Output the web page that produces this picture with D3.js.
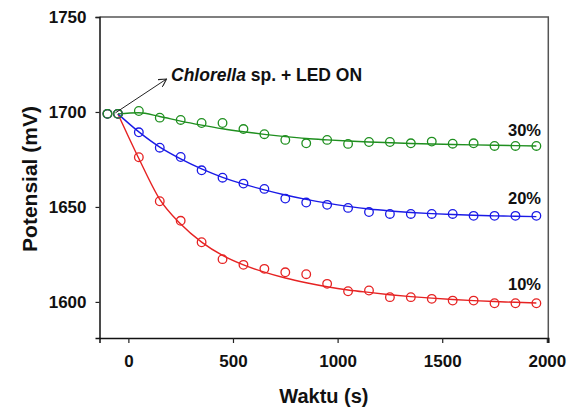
<!DOCTYPE html>
<html>
<head>
<meta charset="utf-8">
<script src="https://cdn.jsdelivr.net/npm/d3@7"></script>
<style>
  body { margin: 0; background: #fff; }
  text { font-family: "Liberation Sans", Arial, sans-serif; font-weight: bold; }
</style>
</head>
<body>
<div id="container"></div>
<script>
// sizes
const width = 576,
  height = 407,
  margin = { top: 17, bottom: 69, left: 99.5, right: 27.7 },
  radius = 4.3;

// measured points (time in s, potential in mV)
const times = [-100, -50, 50, 150, 250, 350, 450, 550, 650, 750, 850, 950,
  1050, 1150, 1250, 1350, 1450, 1550, 1650, 1750, 1850, 1950];
const pct30 = [1699, 1699, 1700.5, 1697, 1695.8, 1694.2, 1694.2, 1691, 1688.3, 1685.3, 1683.5, 1685.3,
  1683.2, 1684.2, 1684.2, 1683.5, 1684.4, 1683.3, 1683.5, 1682.1, 1682.1, 1682.1];
const pct20 = [1699, 1699, 1689.3, 1681.2, 1676.3, 1669.3, 1665.4, 1662.3, 1659.5, 1654.4, 1652.3, 1651.1,
  1649.5, 1647.3, 1646.3, 1646.3, 1646.3, 1646.3, 1645.3, 1645.3, 1645.3, 1645.3];
const pct10 = [1699, 1699, 1676.2, 1653, 1642.7, 1631.4, 1622.5, 1619.5, 1617.4, 1615.6, 1614.6, 1609.5,
  1605.6, 1606, 1602.5, 1602.5, 1601.6, 1600.7, 1600.7, 1599.3, 1599.3, 1599.3];

// fitted curves
const fitTimes = [-50, 50, 150, 250, 350, 450, 550, 650, 750, 850, 950,
  1050, 1150, 1250, 1350, 1450, 1550, 1650, 1750, 1850, 1950];
const fit30 = [1699, 1699.6, 1697.6, 1695.2, 1693.1, 1691.2, 1689.6, 1688.2, 1687, 1686, 1685.3,
  1684.7, 1684.2, 1683.8, 1683.4, 1683.1, 1682.9, 1682.7, 1682.5, 1682.3, 1682.1];
const fit20 = [1699, 1689.5, 1681.5, 1675.3, 1670, 1665.6, 1662, 1659, 1656.3, 1654, 1652,
  1650.3, 1648.9, 1647.9, 1647.1, 1646.5, 1646, 1645.6, 1645.3, 1645.1, 1644.9];
const fit10 = [1699, 1675.5, 1654, 1641, 1631.5, 1624.5, 1619.5, 1615.7, 1612.6, 1610.1, 1608,
  1606.3, 1605, 1603.8, 1602.8, 1602, 1601.3, 1600.7, 1600.2, 1599.8, 1599.4];

const seriesNames = ["30%", "20%", "10%"];
const xTicks = [0, 500, 1000, 1500, 2000];
const yTicks = [1600, 1650, 1700, 1750];

const series = [
  { name: seriesNames[0], pts: pct30, fit: fit30, color: "#1f8f1f", labelY: 135.5 },
  { name: seriesNames[1], pts: pct20, fit: fit20, color: "#1a1ae6", labelY: 204 },
  { name: seriesNames[2], pts: pct10, fit: fit10, color: "#e62222", labelY: 290 }
];

const xScale = d3.scaleLinear()
  .domain([-138, 2007])
  .range([margin.left, width - margin.right]);

const yScale = d3.scaleLinear()
  .domain([1581, 1750])
  .range([height - margin.bottom, margin.top]);

const svg = d3.select("#container")
  .append("svg")
  .attr("width", width)
  .attr("height", height);

// frame: top and right are a lighter grey
svg.append("path")
  .attr("d", `M${margin.left},${margin.top}H${width - margin.right}V${height - margin.bottom}`)
  .attr("fill", "none")
  .attr("stroke", "#555")
  .attr("stroke-width", 1.5);

// axes
const xAxis = svg.append("g")
  .attr("transform", `translate(0,${height - margin.bottom})`)
  .call(d3.axisBottom(xScale).tickValues(xTicks).tickFormat(d3.format("d"))
    .tickSizeOuter(0).tickSize(5).tickPadding(12));

const yAxis = svg.append("g")
  .attr("transform", `translate(${margin.left},0)`)
  .call(d3.axisLeft(yScale).tickValues(yTicks).tickFormat(d3.format("d"))
    .tickSizeOuter(0).tickSize(4).tickPadding(9));

[xAxis, yAxis].forEach(ax => {
  ax.select(".domain").attr("stroke", "#111").attr("stroke-width", 1.5);
  ax.selectAll(".tick line").attr("stroke", "#222").attr("stroke-width", 1.2);
  ax.selectAll(".tick text")
    .style("font-size", "17px")
    .style("font-family", "'Liberation Sans', Arial, sans-serif")
    .style("font-weight", "bold")
    .attr("fill", "#111");
});

// axis titles
svg.append("text")
  .attr("x", (margin.left + width - margin.right) / 2)
  .attr("y", 402.5)
  .attr("text-anchor", "middle")
  .style("font-size", "20px")
  .attr("fill", "#111")
  .text("Waktu (s)");

svg.append("text")
  .attr("transform", "translate(36.5,179) rotate(-90)")
  .attr("text-anchor", "middle")
  .style("font-size", "21px")
  .attr("fill", "#111")
  .text("Potensial (mV)");

// fitted lines
const line = d3.line()
  .x((d, i) => xScale(fitTimes[i]))
  .y(d => yScale(d))
  .curve(d3.curveMonotoneX);

// draw 10% first so green ends on top
series.slice().reverse().forEach(s => {
  svg.append("path")
    .attr("d", line(s.fit))
    .attr("fill", "none")
    .attr("stroke", s.color)
    .attr("stroke-width", 1.4);
});

series.slice().reverse().forEach(s => {
  svg.append("g")
    .selectAll("circle")
    .data(s.pts)
    .join("circle")
    .attr("cx", (d, i) => xScale(times[i]))
    .attr("cy", d => yScale(d))
    .attr("r", radius)
    .attr("fill", "none")
    .attr("stroke", s.color)
    .attr("stroke-width", 1.3);
});

// series labels
svg.selectAll(".lbl")
  .data(series)
  .join("text")
  .attr("class", "lbl")
  .attr("x", 541)
  .attr("y", d => d.labelY)
  .attr("text-anchor", "end")
  .style("font-size", "16.5px")
  .attr("fill", "#111")
  .text(d => d.name);

// annotation arrow
svg.append("defs").append("marker")
  .attr("id", "head")
  .attr("viewBox", "0 0 10 10")
  .attr("refX", 9).attr("refY", 5)
  .attr("markerWidth", 9).attr("markerHeight", 9)
  .attr("markerUnits", "userSpaceOnUse")
  .attr("orient", "auto")
  .append("path")
  .attr("d", "M0,0L9,5L0,10")
  .attr("fill", "none")
  .attr("stroke", "#222")
  .attr("stroke-width", 1.2);

svg.append("line")
  .attr("x1", xScale(-62)).attr("y1", yScale(1699) - 1)
  .attr("x2", 166.5).attr("y2", 79)
  .attr("stroke", "#222")
  .attr("stroke-width", 1)
  .attr("marker-end", "url(#head)");

const ann = svg.append("text")
  .attr("x", 171)
  .attr("y", 81)
  .style("font-size", "17.5px")
  .attr("fill", "#111");
ann.append("tspan").style("font-style", "italic").text("Chlorella");
ann.append("tspan").text(" sp. + LED ON");
</script>
</body>
</html>
